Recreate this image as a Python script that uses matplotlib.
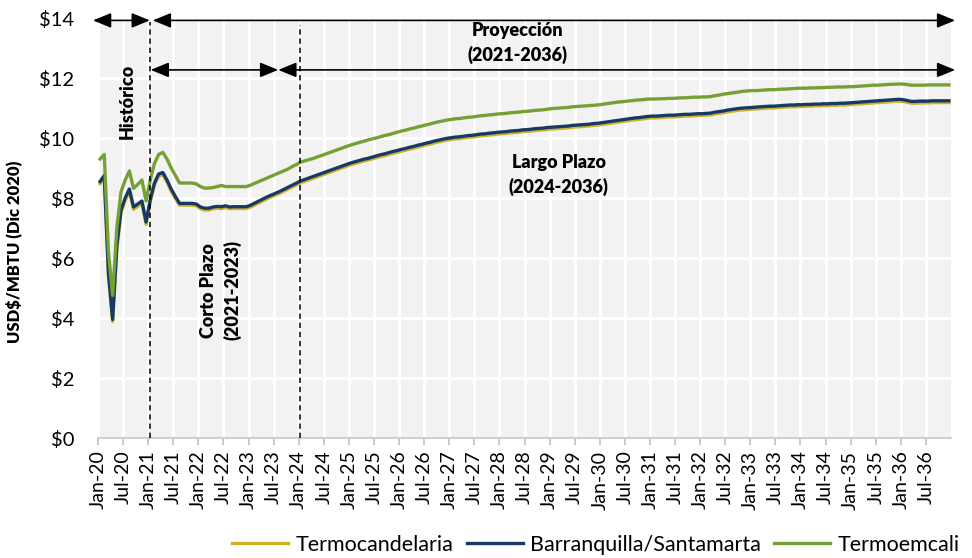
import matplotlib
matplotlib.use("Agg")
import matplotlib.pyplot as plt
import numpy as np

plt.rcParams['font.family'] = ['Lato', 'DejaVu Sans']

# ---------------- data (monthly, Jan-2020 .. Dec-2036) ----------------
series_names = ["Termocandelaria", "Barranquilla/Santamarta", "Termoemcali"]

termocandelaria = [
    8.48, 8.68, 5.40, 3.88, 6.30, 7.50, 7.92, 8.22, 7.62, 7.72, 7.82, 7.12,
    7.88, 8.43, 8.73, 8.78, 8.53, 8.23, 7.98, 7.76, 7.76, 7.76, 7.76, 7.74,
    7.64, 7.60, 7.60, 7.64, 7.66, 7.65, 7.68, 7.64, 7.65, 7.65, 7.65, 7.65,
    7.70, 7.77, 7.84, 7.91, 7.98, 8.04, 8.10, 8.16, 8.23, 8.30, 8.37, 8.44,
    8.51, 8.56, 8.61, 8.66, 8.71, 8.76, 8.81, 8.86, 8.91, 8.96, 9.01, 9.06,
    9.11, 9.15, 9.19, 9.23, 9.26, 9.30, 9.34, 9.38, 9.41, 9.45, 9.49, 9.52,
    9.56, 9.59, 9.63, 9.66, 9.70, 9.73, 9.77, 9.80, 9.84, 9.87, 9.90, 9.93,
    9.95, 9.97, 9.98, 10.00, 10.02, 10.03, 10.05, 10.07, 10.08, 10.10, 10.11, 10.13,
    10.14, 10.15, 10.17, 10.18, 10.19, 10.21, 10.22, 10.23, 10.25, 10.26, 10.27, 10.29,
    10.30, 10.31, 10.32, 10.33, 10.34, 10.36, 10.37, 10.38, 10.39, 10.40, 10.42, 10.43,
    10.45, 10.47, 10.49, 10.51, 10.53, 10.55, 10.57, 10.59, 10.61, 10.62, 10.64, 10.66,
    10.67, 10.67, 10.68, 10.69, 10.70, 10.70, 10.71, 10.72, 10.73, 10.73, 10.74, 10.75,
    10.75, 10.76, 10.77, 10.80, 10.82, 10.84, 10.87, 10.89, 10.91, 10.93, 10.94, 10.95,
    10.96, 10.97, 10.98, 10.99, 11.00, 11.00, 11.01, 11.02, 11.03, 11.04, 11.04, 11.05,
    11.05, 11.06, 11.06, 11.07, 11.07, 11.08, 11.08, 11.09, 11.09, 11.10, 11.10, 11.11,
    11.12, 11.13, 11.14, 11.15, 11.16, 11.17, 11.18, 11.19, 11.20, 11.21, 11.22, 11.23,
    11.22, 11.19, 11.16, 11.16, 11.17, 11.17, 11.17, 11.18, 11.18, 11.18, 11.18, 11.18,
]

barranquilla = [
    8.55, 8.75, 5.50, 3.95, 6.40, 7.60, 8.00, 8.30, 7.70, 7.80, 7.90, 7.20,
    7.95, 8.50, 8.80, 8.85, 8.60, 8.30, 8.05, 7.82, 7.82, 7.82, 7.82, 7.80,
    7.70, 7.66, 7.66, 7.70, 7.72, 7.71, 7.74, 7.70, 7.71, 7.71, 7.71, 7.71,
    7.76, 7.83, 7.90, 7.97, 8.04, 8.10, 8.16, 8.22, 8.29, 8.36, 8.43, 8.50,
    8.57, 8.62, 8.67, 8.72, 8.77, 8.82, 8.87, 8.92, 8.97, 9.02, 9.07, 9.12,
    9.17, 9.21, 9.25, 9.29, 9.32, 9.36, 9.40, 9.44, 9.47, 9.51, 9.55, 9.58,
    9.62, 9.65, 9.69, 9.72, 9.76, 9.79, 9.83, 9.86, 9.90, 9.93, 9.96, 9.99,
    10.01, 10.03, 10.04, 10.06, 10.08, 10.09, 10.11, 10.13, 10.14, 10.16, 10.17, 10.19,
    10.20, 10.21, 10.23, 10.24, 10.25, 10.27, 10.28, 10.29, 10.31, 10.32, 10.33, 10.35,
    10.36, 10.37, 10.38, 10.39, 10.40, 10.42, 10.43, 10.44, 10.45, 10.46, 10.48, 10.49,
    10.51, 10.53, 10.55, 10.57, 10.59, 10.61, 10.63, 10.65, 10.67, 10.68, 10.70, 10.72,
    10.73, 10.73, 10.74, 10.75, 10.76, 10.76, 10.77, 10.78, 10.79, 10.79, 10.80, 10.81,
    10.81, 10.82, 10.83, 10.86, 10.88, 10.90, 10.93, 10.95, 10.97, 10.99, 11.00, 11.01,
    11.02, 11.03, 11.04, 11.05, 11.06, 11.06, 11.07, 11.08, 11.09, 11.10, 11.10, 11.11,
    11.11, 11.12, 11.12, 11.13, 11.13, 11.14, 11.14, 11.15, 11.15, 11.16, 11.16, 11.17,
    11.18, 11.19, 11.20, 11.21, 11.22, 11.23, 11.24, 11.25, 11.26, 11.27, 11.28, 11.29,
    11.28, 11.25, 11.22, 11.22, 11.23, 11.23, 11.23, 11.24, 11.24, 11.24, 11.24, 11.24,
]

termoemcali = [
    9.30, 9.45, 6.20, 4.75, 7.00, 8.20, 8.60, 8.90, 8.32, 8.45, 8.60, 7.90,
    8.60, 9.15, 9.45, 9.52, 9.30, 9.00, 8.75, 8.50, 8.50, 8.50, 8.50, 8.47,
    8.38, 8.33, 8.33, 8.35, 8.38, 8.42, 8.38, 8.38, 8.38, 8.38, 8.38, 8.38,
    8.43, 8.49, 8.55, 8.61, 8.67, 8.73, 8.79, 8.85, 8.91, 8.97, 9.05, 9.12,
    9.20, 9.24, 9.28, 9.32, 9.37, 9.42, 9.47, 9.52, 9.57, 9.62, 9.67, 9.72,
    9.77, 9.81, 9.85, 9.89, 9.93, 9.97, 10.00, 10.04, 10.08, 10.11, 10.15, 10.19,
    10.23, 10.26, 10.30, 10.33, 10.37, 10.40, 10.44, 10.47, 10.51, 10.54, 10.57, 10.60,
    10.62, 10.64, 10.65, 10.67, 10.69, 10.70, 10.72, 10.74, 10.75, 10.77, 10.78, 10.80,
    10.81, 10.82, 10.84, 10.85, 10.86, 10.88, 10.89, 10.90, 10.92, 10.93, 10.94, 10.96,
    10.98, 10.99, 11.00, 11.01, 11.02, 11.04, 11.05, 11.06, 11.07, 11.08, 11.09, 11.10,
    11.12, 11.14, 11.16, 11.18, 11.20, 11.21, 11.23, 11.24, 11.26, 11.27, 11.28, 11.30,
    11.30, 11.30, 11.31, 11.31, 11.32, 11.32, 11.33, 11.34, 11.34, 11.35, 11.36, 11.36,
    11.37, 11.37, 11.38, 11.41, 11.43, 11.46, 11.48, 11.50, 11.52, 11.54, 11.56, 11.57,
    11.58, 11.58, 11.59, 11.60, 11.61, 11.61, 11.62, 11.63, 11.63, 11.64, 11.65, 11.66,
    11.66, 11.66, 11.67, 11.67, 11.68, 11.68, 11.69, 11.69, 11.70, 11.70, 11.70, 11.71,
    11.71, 11.72, 11.73, 11.74, 11.75, 11.76, 11.76, 11.77, 11.78, 11.79, 11.79, 11.80,
    11.80, 11.78, 11.76, 11.76, 11.76, 11.76, 11.77, 11.77, 11.77, 11.77, 11.77, 11.77,
]

years = list(range(20, 37))
tick_months = ["Jan", "Jul"]
tick_labels = [f"{m}-{y}" for y in years for m in tick_months]
y_ticks = [0, 2, 4, 6, 8, 10, 12, 14]
y_tick_labels = [f"${v}" for v in y_ticks]

colors = ["#CDB42C", "#173A64", "#76A034"]

# ---------------- figure ----------------
fig = plt.figure(figsize=(9.72, 5.58), dpi=100)
ax = fig.add_axes([98 / 972, 1 - 438 / 558, (951 - 98) / 972, (438 - 18) / 558])
ax.set_facecolor("#F2F2F2")

n = len(barranquilla)
x = np.arange(n) + 0.5
for vals, c, name in zip([termocandelaria, barranquilla, termoemcali], colors, series_names):
    ax.plot(x, vals, color=c, lw=2.4, label=name, solid_joinstyle="round", zorder=3)

ax.set_xlim(0, n)
ax.set_ylim(0, 14)
ax.set_xticks(np.arange(0, n, 6))
ax.set_xticklabels(tick_labels, rotation=90, fontsize=14, color="#000000")
ax.set_yticks(y_ticks)
ax.set_yticklabels(y_tick_labels, fontsize=14.5)
ax.tick_params(axis="y", length=0, pad=17)
ax.tick_params(axis="x", length=5, width=1.2, color="#BFBFBF", pad=4)

ax.grid(True, color="white", lw=2.2, zorder=1)
ax.set_axisbelow(True)
for s in ["top", "right", "left"]:
    ax.spines[s].set_visible(False)
ax.spines["bottom"].set_color("#D0D0D0")
ax.spines["bottom"].set_linewidth(1.5)

ax.set_ylabel("USD$/MBTU (Dic 2020)", fontsize=12, fontweight="heavy")
ax.yaxis.set_label_coords(-0.089, 0.443)

# ---------------- annotations ----------------
def darrow(x0, x1, y):
    ax.annotate("", xy=(x1, y), xytext=(x0, y), annotation_clip=False,
                arrowprops=dict(arrowstyle="<|-|>,head_length=1.1,head_width=0.45",
                                mutation_scale=10, color="black", lw=1.2,
                                shrinkA=0, shrinkB=0))

darrow(-1.2, 12.4, 13.92)
darrow(13.1, 205.0, 13.92)
darrow(12.6, 43.1, 12.27)
darrow(43.1, 205.0, 12.27)

ax.plot([12.44, 12.44], [0, 13.87], color="black", lw=1.1, ls=(0, (3.5, 2.5)), zorder=4)
ax.plot([48.2, 48.2], [0, 13.77], color="black", lw=1.1, ls=(0, (3.5, 2.5)), zorder=4)

bold = dict(fontweight="heavy", fontsize=13, color="black", ha="center", va="center",
            linespacing=1.45)
ax.text(100.4, 13.17, "Proyección\n(2021-2036)", **bold)
ax.text(110.2, 8.77, "Largo Plazo\n(2024-2036)", **bold)
ax.text(7.1, 11.23, "Histórico", rotation=90, **bold)
ax.text(29.4, 4.93, "Corto Plazo\n(2021-2023)", rotation=90, **bold)

# ---------------- legend ----------------
leg = fig.legend(loc="center", bbox_to_anchor=(596 / 972, 1 - 545 / 558), ncol=3,
                 frameon=False, fontsize=15.5, handlelength=2.6, handletextpad=0.35,
                 columnspacing=0.6, borderaxespad=0)

fig.savefig("out.png", dpi=100)
